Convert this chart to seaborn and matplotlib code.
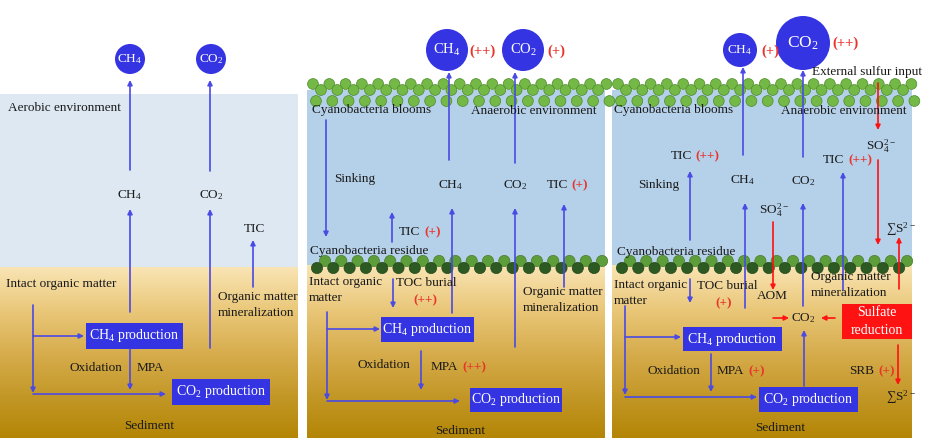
import numpy as np
import matplotlib
matplotlib.use('Agg')
import matplotlib.pyplot as plt
from matplotlib.patches import Circle, Rectangle
from matplotlib.colors import LinearSegmentedColormap
import seaborn as sns

sns.set_theme(style='white')
plt.rcParams['font.family'] = ['Liberation Serif', 'DejaVu Serif']
plt.rcParams['mathtext.fontset'] = 'custom'
plt.rcParams['mathtext.rm'] = 'Liberation Serif'
plt.rcParams['mathtext.default'] = 'regular'

# scenario data (left: aerobic lake, middle: cyanobacteria bloom, right: bloom + external sulfur)
scenarios = ['Aerobic', 'Bloom', 'Bloom + sulfur']
water_label = ['Aerobic environment', 'Anaerobic environment', 'Anaerobic environment']
ch4_emission = ['', '(++)', '(+)']
co2_emission = ['', '(+)', '(++)']
ch4_emission_size = [15, 21, 17]
co2_emission_size = [15, 21, 27]
tic_water = ['', '(+)', '(++)']
tic_residue = ['', '(+)', '(++)']
toc_burial = ['', '(++)', '(+)']
mpa_change = ['', '(++)', '(+)']
srb_change = '(+)'

BOX = '#3434e2'
LINE = '#4a4ae4'
RED = '#ff1212'
TRED = '#e8342a'
FS = 9.5

fig = plt.figure(figsize=(9.32, 4.4), dpi=100)
ax = fig.add_axes([0, 0, 1, 1])
ax.set_xlim(0, 932)
ax.set_ylim(440, 0)
ax.axis('off')

sed_cmap = LinearSegmentedColormap.from_list(
    'sed', ['#f9e4b4', '#eac87a', '#d7ad4e', '#c49828', '#b38606'])
grad = np.linspace(0, 1, 200).reshape(-1, 1)


def background(x0, x1, top, sed, water):
    ax.add_patch(Rectangle((x0, top), x1 - x0, sed - top, color=water, lw=0, zorder=0))
    ax.imshow(grad, cmap=sed_cmap, extent=(x0, x1, 438, sed), origin='upper', aspect='auto', zorder=0)


def arrow(x0, y0, x1, y1, c=LINE, lw=1.2):
    ax.annotate('', xy=(x1, y1), xytext=(x0, y0),
                arrowprops=dict(arrowstyle='-|>', color=c, lw=lw, mutation_scale=7,
                                shrinkA=0, shrinkB=0), zorder=4)


def txt(x, y, s, ha='left', c='#1a1a1a', fs=FS, **kw):
    ax.text(x, y, s, ha=ha, va='center', color=c, fontsize=fs, zorder=5, **kw)


def box(x, y, w, h, s, fc=BOX):
    ax.add_patch(Rectangle((x, y), w, h, color=fc, lw=0, zorder=3))
    txt(x + w / 2, y + h / 2, s, ha='center', c='white', fs=FS + 0.5)


def gas(x, y, r, s, fs=FS):
    ax.add_patch(Circle((x, y), r, color=BOX, lw=0, zorder=3))
    txt(x, y, s, ha='center', c='white', fs=fs)


def bracket(x, ytop, ybot, y_a, xa, y_b, xb):
    arrow(x, ytop, x, ybot)
    arrow(x, y_a, xa, y_a)
    arrow(x, y_b, xb, y_b)


def top_band(x0, x1):
    xs = np.arange(x0 + 6, x1 + 2, 16.3)
    for x in xs:
        ax.add_patch(Circle((x, 84), 5.4, fc='#74b946', ec='#4a8a2e', lw=0.5, zorder=2))
    for x in xs[:-1]:
        ax.add_patch(Circle((x + 8, 90), 5.4, fc='#74b946', ec='#4a8a2e', lw=0.5, zorder=2))
    for x in xs:
        ax.add_patch(Circle((x + 3, 101), 5.4, fc='#74b946', ec='#4a8a2e', lw=0.5, zorder=2))


def bottom_band(x0, x1):
    xs = np.arange(x0 + 10, x1 - 2, 16.3)
    for x in xs:
        ax.add_patch(Circle((x + 8, 261), 5.6, fc='#5e9e3a', ec='#467c2c', lw=0.5, zorder=2))
    for x in xs:
        ax.add_patch(Circle((x, 268), 5.6, fc='#2c5a22', ec='#24481c', lw=0.5, zorder=2))


# ---------------- panel 1: aerobic ----------------
background(0, 298, 94, 267, '#dde8f3')
gas(130, 59, ch4_emission_size[0], 'CH$_4$')
gas(211, 59, co2_emission_size[0], 'CO$_2$')
arrow(130, 170, 130, 80)
arrow(210, 171, 210, 80)
txt(8, 108, water_label[0])
txt(130, 195, 'CH$_4$', ha='center')
txt(211, 195, 'CO$_2$', ha='center')
arrow(130, 312, 130, 209)
arrow(210, 348, 210, 209)
txt(254, 229, 'TIC', ha='center')
arrow(253, 287, 253, 240)
txt(218, 297, 'Organic matter')
txt(218, 313, 'mineralization')
txt(6, 284, 'Intact organic matter')
box(86, 323, 97, 26, 'CH$_4$ production')
box(172, 379, 98, 26, 'CO$_2$ production')
bracket(33, 305, 393, 336, 84, 394, 166)
arrow(130, 349, 130, 390)
txt(70, 368, 'Oxidation')
txt(137, 368, 'MPA')
txt(149, 426, 'Sediment', ha='center')

# ---------------- panel 2: bloom ----------------
background(307, 605, 90, 265, '#b5d0e9')
top_band(307, 605)
bottom_band(307, 605)
gas(447, 50, ch4_emission_size[1], 'CH$_4$', fs=FS + 1)
gas(523, 50, co2_emission_size[1], 'CO$_2$', fs=FS + 1)
txt(469, 51, ch4_emission[1], c=TRED, fs=FS + 1, fontweight='bold')
txt(547, 51, co2_emission[1], c=TRED, fs=FS + 1, fontweight='bold')
arrow(449, 160, 449, 72)
arrow(515, 163, 515, 72)
txt(312, 110, 'Cyanobacteria blooms')
txt(471, 111, water_label[1])
arrow(326, 120, 326, 237)
txt(334, 179, 'Sinking')
txt(451, 185, 'CH$_4$', ha='center')
txt(515, 185, 'CO$_2$', ha='center')
txt(547, 185, 'TIC')
txt(571, 185, tic_water[1], c=TRED, fontweight='bold')
arrow(392, 242, 392, 212)
txt(399, 232, 'TIC')
txt(424, 232, tic_residue[1], c=TRED, fontweight='bold')
arrow(452, 313, 452, 208)
arrow(515, 347, 515, 208)
arrow(564, 287, 564, 204)
txt(310, 251, 'Cyanobacteria residue')
txt(309, 282, 'Intact organic')
txt(309, 298, 'matter')
txt(396, 283, 'TOC burial')
txt(413, 300, toc_burial[1], c=TRED, fontweight='bold')
arrow(393, 279, 393, 308)
txt(523, 292, 'Organic matter')
txt(523, 308, 'mineralization')
box(381, 317, 93, 25, 'CH$_4$ production')
bracket(327, 312, 400, 329, 380, 401, 460)
arrow(421, 351, 421, 390)
txt(357, 365, 'Oxidation')
txt(431, 367, 'MPA')
txt(462, 367, mpa_change[1], c=TRED, fontweight='bold')
box(470, 388, 92, 24, 'CO$_2$ production')
txt(460, 431, 'Sediment', ha='center')

# ---------------- panel 3: bloom + external sulfur ----------------
background(612, 912, 90, 265, '#b5d0e9')
top_band(612, 912)
bottom_band(612, 912)
gas(740, 50, ch4_emission_size[2], 'CH$_4$')
gas(803, 43, co2_emission_size[2], 'CO$_2$', fs=FS + 3)
txt(761, 51, ch4_emission[2], c=TRED, fs=FS + 1, fontweight='bold')
txt(832, 43, co2_emission[2], c=TRED, fs=FS + 1, fontweight='bold')
txt(812, 72, 'External sulfur input')
arrow(743, 155, 743, 67)
arrow(803, 157, 803, 70)
txt(614, 110, 'Cyanobacteria blooms')
txt(781, 111, water_label[2])
arrow(878, 83, 878, 130, c=RED)
txt(866, 146, 'SO$_4^{2-}$')
arrow(878, 160, 878, 245, c=RED)
txt(671, 156, 'TIC')
txt(695, 156, tic_residue[2], c=TRED, fontweight='bold')
arrow(690, 240, 690, 171)
txt(638, 185, 'Sinking')
txt(743, 180, 'CH$_4$', ha='center')
txt(803, 181, 'CO$_2$', ha='center')
txt(823, 160, 'TIC')
txt(848, 160, tic_water[2], c=TRED, fontweight='bold')
arrow(843, 290, 843, 172)
txt(759, 210, 'SO$_4^{2-}$')
arrow(773, 222, 773, 290, c=RED)
arrow(745, 308, 745, 203)
arrow(803, 306, 803, 203)
txt(886, 229, '∑S$^{2-}$')
arrow(899, 289, 899, 237, c=RED)
txt(617, 252, 'Cyanobacteria residue')
txt(614, 285, 'Intact organic')
txt(614, 301, 'matter')
txt(697, 286, 'TOC burial')
txt(715, 303, toc_burial[2], c=TRED, fontweight='bold')
arrow(690, 279, 690, 303)
txt(757, 296, 'AOM')
txt(811, 277, 'Organic matter')
txt(811, 293, 'mineralization')
ax.add_patch(Rectangle((842, 304), 70, 35, color=RED, lw=0, zorder=3))
txt(877, 313, 'Sulfate', ha='center', c='white', fs=FS + 0.5)
txt(877, 330, 'reduction', ha='center', c='white', fs=FS + 0.5)
txt(803, 318, 'CO$_2$', ha='center')
arrow(773, 318, 789, 318, c=RED)
arrow(835, 318, 821, 318, c=RED)
box(683, 327, 99, 24, 'CH$_4$ production')
bracket(625, 306, 395, 337, 681, 397, 757)
arrow(711, 354, 711, 392)
txt(647, 371, 'Oxidation')
txt(717, 371, 'MPA')
txt(748, 371, mpa_change[2], c=TRED, fontweight='bold')
box(759, 387, 99, 25, 'CO$_2$ production')
arrow(804, 386, 804, 330)
arrow(898, 345, 898, 385, c=RED)
txt(849, 371, 'SRB')
txt(878, 371, srb_change, c=TRED, fontweight='bold')
txt(886, 397, '∑S$^{2-}$')
txt(780, 428, 'Sediment', ha='center')

fig.savefig('out.png', dpi=100)
